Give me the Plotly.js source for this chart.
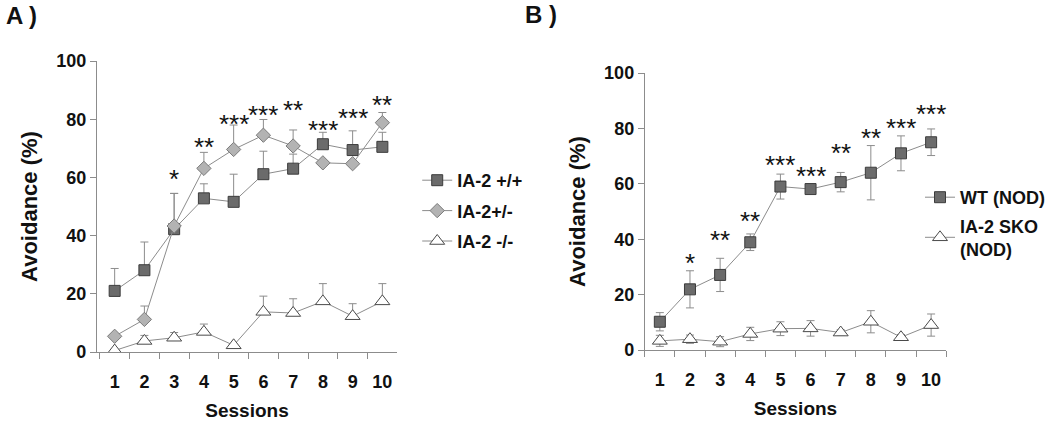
<!DOCTYPE html>
<html>
<head>
<meta charset="utf-8">
<script src="https://cdn.plot.ly/plotly-3.0.1.min.js"></script>
<style>
  html, body { margin: 0; padding: 0; background: #fff; }
  #graph { width: 1050px; height: 425px; }
</style>
</head>
<body>
<div id="graph"></div>
<script>
// sessions on the x axis
const sessions = ['1', '2', '3', '4', '5', '6', '7', '8', '9', '10'];

// panel A
const wtA = [21.0, 28.1, 42.2, 52.8, 51.6, 61.1, 63.0, 71.4, 69.4, 70.5];
const wtAErr = [7.7, 9.7, 12.3, 5.0, 9.5, 7.9, 5.0, 4.1, 6.6, 5.0];
const hetA = [5.4, 11.2, 43.3, 63.1, 69.6, 74.5, 70.8, 65.0, 64.7, 78.8];
const hetAErr = [0, 4.6, 11.2, 5.5, 8.4, 5.4, 5.5, 0, 0, 3.5];
const koA = [0.5, 3.8, 4.9, 6.9, 2.3, 13.8, 13.4, 17.4, 12.3, 17.4];
const koAErr = [0, 1.9, 1.8, 2.7, 0, 5.4, 4.9, 6.1, 4.3, 6.1];
const sigA = ['', '', '*', '**', '***', '***', '**', '***', '***', '**'];
const sigAHeight = [0, 0, 61, 72, 80, 83, 85, 78, 82, 86.6];

// panel B
const wtB = [10.2, 21.9, 27.1, 38.9, 59.0, 58.1, 60.6, 64.0, 71.0, 75.0];
const wtBErr = [3.3, 6.7, 6.0, 3.0, 4.5, 1.0, 3.5, 9.8, 6.3, 4.8];
const skoB = [3.3, 3.9, 3.0, 5.8, 7.7, 7.8, 6.3, 10.2, 4.6, 9.0];
const skoBErr = [2.0, 1.5, 1.8, 2.4, 2.5, 2.8, 1.0, 4.0, 1.0, 4.0];
const sigB = ['', '*', '**', '**', '***', '***', '**', '**', '***', '***'];
const sigBHeight = [0, 33.1, 41.6, 48.2, 68.7, 64.7, 72.9, 78.2, 81.8, 86.9];

const FONT = 'Liberation Sans, Arial, sans-serif';
const LINE = '#8c8c8c';

function series(name, y, err, sym, fill, edge, xa, ya, legend, both) {
    return {
        x: sessions,
        y: y,
        name: name,
        xaxis: xa,
        yaxis: ya,
        legend: legend,
        legendgroup: name,
        type: 'scatter',
        mode: 'lines+markers',
        line: {color: LINE, width: 1},
        marker: {
            symbol: sym,
            size: sym === 'triangle-up' ? 13 : 11,
            color: fill,
            line: {color: edge, width: 1}
        },
        error_y: {
            type: 'data',
            array: err,
            arrayminus: both ? err : err.map(() => 0),
            symmetric: false,
            color: LINE,
            thickness: 1,
            width: 4
        }
    };
}

let data = [
    series('IA-2 +/+', wtA, wtAErr, 'square', '#6b6b6b', '#3c3c3c', 'x', 'y', 'legend', false),
    series('IA-2+/-', hetA, hetAErr, 'diamond', '#b3b3b3', '#7a7a7a', 'x', 'y', 'legend', false),
    series('IA-2 -/-', koA, koAErr, 'triangle-up', '#ffffff', '#4a4a4a', 'x', 'y', 'legend', false),
    series('WT (NOD)', wtB, wtBErr, 'square', '#6b6b6b', '#3c3c3c', 'x2', 'y2', 'legend2', true),
    series('IA-2 SKO<br>(NOD)', skoB, skoBErr, 'triangle-up', '#ffffff', '#4a4a4a', 'x2', 'y2', 'legend2', true)
];

// significance stars; x given as category index
function stars(labels, heights, xa, ya) {
    let out = [];
    labels.forEach((s, i) => {
        if (!s) return;
        out.push({
            x: i, y: heights[i], xref: xa, yref: ya,
            text: s, showarrow: false,
            yanchor: 'middle', yshift: -5,
            font: {family: FONT, size: 26, color: '#111'}
        });
    });
    return out;
}

function xAxis(domain, range, anchor) {
    return {
        domain: domain, anchor: anchor,
        type: 'category', range: range,
        tickson: 'boundaries',
        ticks: 'outside', ticklen: 6, tickcolor: '#8c8c8c',
        showline: true, linecolor: '#8c8c8c', linewidth: 1,
        showgrid: false, zeroline: false,
        ticklabelstandoff: 13,
        tickfont: {family: FONT, size: 18, weight: 'bold', color: '#111'},
        title: {text: 'Sessions', standoff: 13,
                font: {family: FONT, size: 19, weight: 'bold', color: '#111'}},
        automargin: false
    };
}

function yAxis(domain, anchor) {
    return {
        domain: domain, anchor: anchor,
        range: [0, 100], tickvals: [0, 20, 40, 60, 80, 100],
        ticks: 'outside', ticklen: 6, tickcolor: '#8c8c8c',
        showline: true, linecolor: '#8c8c8c', linewidth: 1,
        showgrid: false, zeroline: false,
        tickfont: {family: FONT, size: 18, weight: 'bold', color: '#111'},
        title: {text: 'Avoidance (%)', standoff: 12,
                font: {family: FONT, size: 22, weight: 'bold', color: '#111'}},
        automargin: false
    };
}

let legendFont = {family: FONT, size: 18, weight: 'bold', color: '#111'};

let layout = {
    width: 1050, height: 425,
    margin: {l: 0, r: 0, t: 0, b: 0},
    paper_bgcolor: '#fff', plot_bgcolor: '#fff',
    showlegend: true,
    xaxis: xAxis([97 / 1050, 398 / 1050], [-0.6, 9.5], 'y'),
    yaxis: yAxis([1 - 352 / 425, 1 - 61 / 425], 'x'),
    xaxis2: xAxis([646 / 1050, 948 / 1050], [-0.5, 9.5], 'y2'),
    yaxis2: yAxis([1 - 350 / 425, 1 - 73 / 425], 'x2'),
    legend: {
        x: 418 / 1050, y: 1 - 162 / 425, xanchor: 'left', yanchor: 'top',
        traceorder: 'grouped', tracegroupgap: 4,
        font: legendFont, bgcolor: 'rgba(0,0,0,0)'
    },
    legend2: {
        x: 922 / 1050, y: 1 - 179 / 425, xanchor: 'left', yanchor: 'top',
        traceorder: 'grouped', tracegroupgap: 2,
        font: legendFont, bgcolor: 'rgba(0,0,0,0)'
    },
    annotations: [
        {text: 'A )', xref: 'paper', yref: 'paper', x: 4 / 1050, y: 1 - 16 / 425,
         xanchor: 'left', yanchor: 'middle', showarrow: false,
         font: {family: FONT, size: 24, weight: 'bold', color: '#111'}},
        {text: 'B )', xref: 'paper', yref: 'paper', x: 524 / 1050, y: 1 - 14 / 425,
         xanchor: 'left', yanchor: 'middle', showarrow: false,
         font: {family: FONT, size: 24, weight: 'bold', color: '#111'}}
    ].concat(stars(sigA, sigAHeight, 'x', 'y'), stars(sigB, sigBHeight, 'x2', 'y2'))
};

Plotly.newPlot('graph', data, layout, {displayModeBar: false, responsive: false});
</script>
</body>
</html>
